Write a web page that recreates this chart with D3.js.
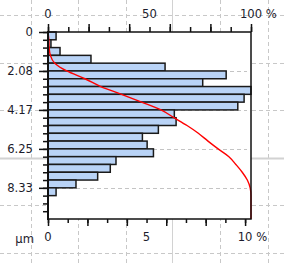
<!DOCTYPE html>
<html>
<head>
<meta charset="utf-8">
<script src="https://cdn.jsdelivr.net/npm/d3@7"></script>
<style>
  body { margin: 0; background: #fff; }
  svg { display: block; }
  text { font-family: "DejaVu Sans", Verdana, sans-serif; font-size: 11.6px; fill: #1c1c2c; }
</style>
</head>
<body>
<svg id="chart" width="284" height="263"></svg>
<script>
// size classes, start of each bin in µm (bin width 10/24 µm)
const binStarts = d3.range(24).map(i => i * 10 / 24);
const binWidth = 10 / 24;
// frequency per class, %
const freq = [0.41, 0.15, 0.61, 2.18, 5.94, 9.04, 7.85, 10.30, 9.95, 9.63, 6.41, 6.50,
              5.60, 4.79, 5.03, 5.35, 3.45, 3.16, 2.52, 1.42, 0.41, 0, 0, 0];
const yTickValues = [0, 25 / 12, 50 / 12, 75 / 12, 100 / 12];
const yTickLabels = ["0", "2.08", "4.17", "6.25", "8.33"];
const topTicks = [0, 50, 100];
const topLabels = ["0", "50", "100"];
const bottomTicks = [0, 5, 10];
const bottomLabels = ["0", "5", "10"];

const plotL = 48, plotR = 251, plotT = 32, plotB = 219;
const svg = d3.select("#chart");

// page grid behind everything
const grid = svg.append("g");
const gx = [31, 78, 126, 172, 220, 268];
const gy = [15, 63, 110, 158, 205, 253];
gx.forEach((x, i) => grid.append("line")
  .attr("x1", x + 0.5).attr("x2", x + 0.5).attr("y1", 0).attr("y2", 263)
  .attr("stroke", i === 3 ? "#d2d2d2" : "#c8c8c8")
  .attr("stroke-dasharray", i === 3 ? null : "4,3"));
gy.forEach((y, i) => grid.append("line")
  .attr("x1", 0).attr("x2", 284).attr("y1", y + 0.5).attr("y2", y + 0.5)
  .attr("stroke", i === 3 ? "#d2d2d2" : "#c8c8c8")
  .attr("stroke-width", i === 3 ? 2 : 1)
  .attr("stroke-dasharray", i === 3 ? null : "4,3"));

// scales
const y = d3.scaleLinear().domain([0, 10]).range([plotT, plotB]);
const xFreq = d3.scaleLinear().domain([0, 10.3]).range([plotL, plotR]);
const xCum = d3.scaleLinear().domain([0, 100]).range([plotL, plotR]);

svg.append("rect")
  .attr("x", plotL).attr("y", plotT)
  .attr("width", plotR - plotL).attr("height", plotB - plotT)
  .attr("fill", "#fff");

// horizontal dashed grid at labelled ticks
svg.append("g")
  .selectAll("line")
  .data(yTickValues.slice(1))
  .enter()
  .append("line")
  .attr("x1", plotL).attr("x2", plotR - 4)
  .attr("y1", d => Math.round(y(d)) + 0.5).attr("y2", d => Math.round(y(d)) + 0.5)
  .attr("stroke", "#c4c4c4")
  .attr("stroke-width", 1.2)
  .attr("stroke-dasharray", "4,3");

// bars
svg.append("g")
  .selectAll("rect")
  .data(binStarts.map((s, i) => ({s, v: freq[i]})).filter(d => d.v > 0))
  .enter()
  .append("rect")
  .attr("x", plotL)
  .attr("y", d => y(d.s))
  .attr("width", d => xFreq(d.v) - plotL)
  .attr("height", y(binWidth) - y(0))
  .attr("fill", "#b9d3f6")
  .attr("stroke", "#1a1a1a")
  .attr("stroke-width", 1.5);

// cumulative curve
const total = d3.sum(freq);
const cum = Array.from(d3.cumsum(freq), c => c / total * 100);
const cumPts = [[0, 0]].concat(binStarts.map((s, i) => [s + binWidth, cum[i]]));
svg.append("path")
  .datum(cumPts)
  .attr("fill", "none")
  .attr("stroke", "#ff0000")
  .attr("stroke-width", 1.4)
  .attr("d", d3.line().curve(d3.curveMonotoneY).x(d => xCum(d[1])).y(d => y(d[0])));

// axes
function styleAxis(g) {
  g.select(".domain").remove();
  g.selectAll(".tick line").attr("stroke", "#111").attr("stroke-width", 1.5);
}

// left: minor ticks every bin, long ticks at labels
svg.append("g").attr("transform", `translate(${plotL},0)`)
  .call(d3.axisLeft(y).tickValues(binStarts).tickSize(5).tickFormat(""))
  .call(styleAxis);
svg.append("g").attr("transform", `translate(${plotL},0)`)
  .call(d3.axisLeft(y).tickValues(yTickValues).tickSize(9).tickPadding(6)
    .tickFormat((d, i) => yTickLabels[i]))
  .call(styleAxis);

// top: percent cumulative
svg.append("g").attr("transform", `translate(0,${plotT})`)
  .call(d3.axisTop(xCum).tickValues(d3.range(0, 101, 10)).tickSize(5).tickFormat(""))
  .call(styleAxis);
svg.append("g").attr("transform", `translate(0,${plotT})`)
  .call(d3.axisTop(xCum).tickValues(d3.range(0, 101, 20)).tickSize(8).tickFormat(""))
  .call(styleAxis);

// bottom: percent frequency
svg.append("g").attr("transform", `translate(0,${plotB})`)
  .call(d3.axisBottom(xFreq).tickValues(d3.range(0, 11, 1)).tickSize(4).tickFormat(""))
  .call(styleAxis);
svg.append("g").attr("transform", `translate(0,${plotB})`)
  .call(d3.axisBottom(xFreq).tickValues(d3.range(0, 11, 2)).tickSize(7).tickFormat(""))
  .call(styleAxis);

// number centered on tick, optional " %" after it
function tickLabels(values, labels, scale, baseline) {
  values.forEach((v, i) => {
    const t = svg.append("text").attr("x", scale(v)).attr("y", baseline)
      .attr("text-anchor", "middle").text(labels[i]);
    if (i === values.length - 1) {
      const w = t.node().getComputedTextLength();
      svg.append("text").attr("x", scale(v) + w / 2).attr("y", baseline)
        .text("\u00a0%");
    }
  });
}
tickLabels(topTicks, topLabels, xCum, 18);
tickLabels(bottomTicks, bottomLabels, xFreq, 241);

svg.append("text").attr("x", 34).attr("y", 243).attr("text-anchor", "end").text("µm");

// frame
svg.append("rect")
  .attr("x", plotL).attr("y", plotT)
  .attr("width", plotR - plotL).attr("height", plotB - plotT)
  .attr("fill", "none").attr("stroke", "#111").attr("stroke-width", 1.5);
svg.append("line").attr("x1", plotL).attr("x2", plotL).attr("y1", plotT - 1).attr("y2", plotB + 1)
  .attr("stroke", "#111").attr("stroke-width", 2);
</script>
</body>
</html>
